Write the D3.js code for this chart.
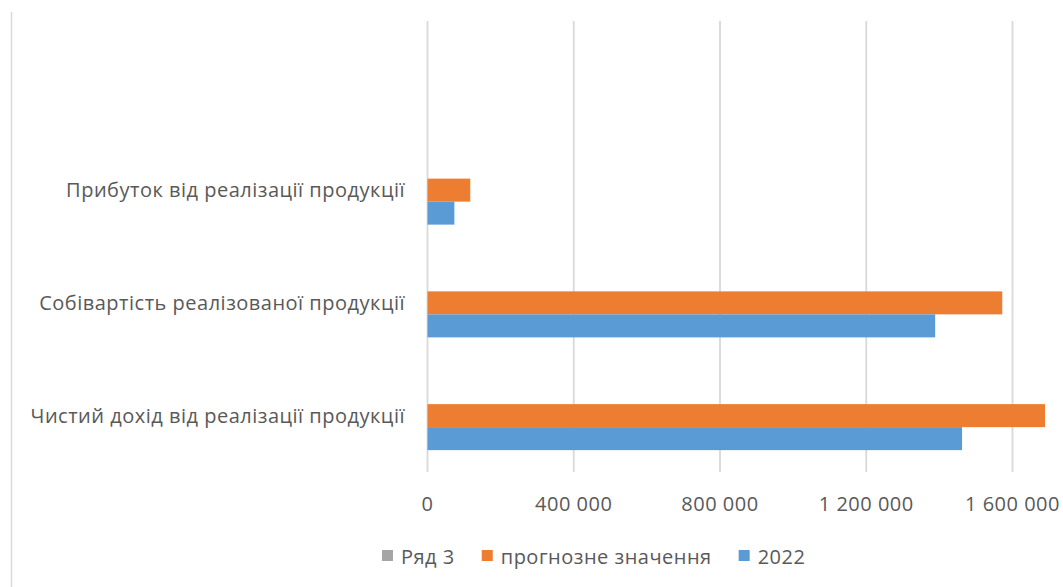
<!DOCTYPE html>
<html>
<head>
<meta charset="utf-8">
<script src="https://cdn.jsdelivr.net/npm/d3@7"></script>
<style>
  html, body { margin: 0; padding: 0; background: #ffffff; }
  svg { display: block; }
  text { font-family: "Open Sans", "Noto Sans", sans-serif; fill: #595959; letter-spacing: 0.5px; }
</style>
</head>
<body>
<svg id="chart" width="1063" height="587"></svg>
<script>
// Categories, top to bottom (the first one is an empty slot in the source workbook)
const categories = ["", "Прибуток від реалізації продукції", "Собівартість реалізованої продукції", "Чистий дохід від реалізації продукції"];
// Series, in the order they stack inside each category (top to bottom)
const seriesNames = ["Ряд 3", "прогнозне значення", "2022"];
const seriesColors = ["#A5A5A5", "#ED7D31", "#5B9BD5"];
// Values per category (same order as categories)
const seriesRow3   = [null, null, null, null];
const seriesForecast = [null, 117000, 1572000, 1689000];
const series2022   = [null, 73500, 1388500, 1462000];
const tickValues = [0, 400000, 800000, 1200000, 1600000];
const tickLabels = ["0", "400 000", "800 000", "1 200 000", "1 600 000"];

const seriesValues = [seriesRow3, seriesForecast, series2022];

const svg = d3.select("#chart");
const W = 1063, H = 587;
const FS = "20px";

svg.append("rect").attr("width", W).attr("height", H).attr("fill", "#ffffff");

// Chart area edge on the left
svg.append("line")
  .attr("x1", 11.5).attr("x2", 11.5).attr("y1", 12).attr("y2", H)
  .attr("stroke", "#d9d9d9").attr("stroke-width", 1.5);

const plot = { left: 427.5, top: 21, bottom: 472 };
const x = d3.scaleLinear().domain([0, 2000000]).range([plot.left, plot.left + 146.25 * 5]);
const y = d3.scaleBand().domain(categories).range([plot.top, plot.bottom]).padding(0);
const yInner = d3.scaleBand().domain(seriesNames).range([0, y.bandwidth()])
  .paddingInner(0).paddingOuter(0.951);

// Vertical gridlines
svg.append("g").selectAll("line").data(tickValues).join("line")
  .attr("x1", d => x(d)).attr("x2", d => x(d))
  .attr("y1", plot.top).attr("y2", plot.bottom)
  .attr("stroke", "#d9d9d9").attr("stroke-width", 1.8);

// Bars
const rows = [];
categories.forEach((c, ci) => {
  seriesNames.forEach((s, si) => {
    const v = seriesValues[si][ci];
    if (v != null) rows.push({ c, s, v, color: seriesColors[si] });
  });
});
svg.append("g").selectAll("rect").data(rows).join("rect")
  .attr("x", x(0))
  .attr("y", d => y(d.c) + yInner(d.s))
  .attr("width", d => x(d.v) - x(0))
  .attr("height", yInner.bandwidth())
  .attr("fill", d => d.color);

// Category labels
svg.append("g").selectAll("text").data(categories.filter(c => c !== "")).join("text")
  .attr("x", 405)
  .attr("y", d => y(d) + y.bandwidth() / 2)
  .attr("dy", "0.35em")
  .attr("text-anchor", "end")
  .style("font-size", FS)
  .text(d => d);

// Value axis labels
svg.append("g").selectAll("text").data(tickValues).join("text")
  .attr("x", d => x(d))
  .attr("y", 511)
  .attr("text-anchor", "middle")
  .style("font-size", FS)
  .text((d, i) => tickLabels[i]);

// Legend
const legendItems = seriesNames.map((n, i) => ({ n, color: seriesColors[i] }));
const legend = svg.append("g");
let lx = 382;
legendItems.forEach(item => {
  const g = legend.append("g");
  g.append("rect").attr("x", lx).attr("y", 550).attr("width", 11).attr("height", 11).attr("fill", item.color);
  const t = g.append("text").attr("x", lx + 19).attr("y", 564).style("font-size", FS).text(item.n);
  lx += 19 + t.node().getComputedTextLength() + 27;
});
</script>
</body>
</html>
